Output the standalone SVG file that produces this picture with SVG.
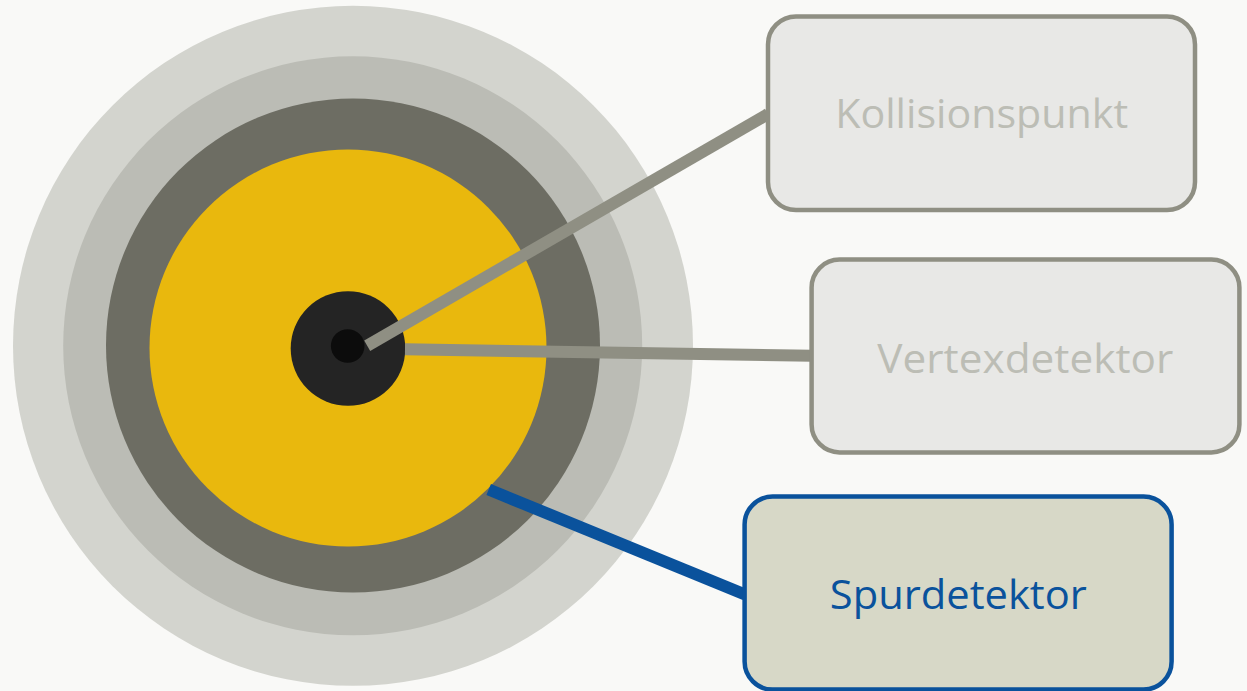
<svg xmlns="http://www.w3.org/2000/svg" width="1247" height="691" viewBox="0 0 1247 691">
  <style>
    .lbl { font-family: "Open Sans", "Noto Sans", "Liberation Sans", sans-serif; font-size: 41px; text-anchor: middle; }
    .gbox { fill: #E8E8E6; stroke: #8F8F83; stroke-width: 4.5; }
    .gtxt { fill: #BCBDB5; }
    .bbox { fill: #D7D8C7; stroke: #0A529C; stroke-width: 4.5; }
    .btxt { fill: #0A529C; }
    .gline { stroke: #8F8F83; stroke-width: 12; stroke-linecap: butt; fill: none; }
    .bline { stroke: #0A529C; stroke-width: 12; stroke-linecap: butt; fill: none; }
  </style>
  <rect x="0" y="0" width="1247" height="691" fill="#F9F9F7"/>
  <g id="detector">
    <circle cx="353" cy="345.8" r="340" fill="#D3D4CE"/>
    <circle cx="352.7" cy="345.8" r="289.5" fill="#BBBCB5"/>
    <circle cx="353" cy="345.5" r="247" fill="#6D6D63"/>
    <circle cx="348" cy="348" r="198.5" fill="#E9B80D"/>
    <circle cx="348" cy="348.5" r="57.3" fill="#242424"/>
    <circle cx="347.7" cy="346" r="16.8" fill="#0C0C0C"/>
  </g>
  <g id="connectors">
    <line class="gline" x1="367.2" y1="345.7" x2="768" y2="114"/>
    <line class="gline" x1="405" y1="349.3" x2="812" y2="355.8"/>
    <line class="bline" x1="488.7" y1="489.5" x2="745" y2="594.5"/>
  </g>
  <g id="kollisionspunkt">
    <rect class="gbox" x="768" y="16.5" width="427" height="193.5" rx="28" ry="28"/>
    <text class="lbl gtxt" x="981.7" y="128" textLength="293" lengthAdjust="spacingAndGlyphs">Kollisionspunkt</text>
  </g>
  <g id="vertexdetektor">
    <rect class="gbox" x="811.6" y="259.6" width="427.8" height="192.8" rx="28" ry="28"/>
    <text class="lbl gtxt" x="1025.3" y="372.7" textLength="296" lengthAdjust="spacingAndGlyphs">Vertexdetektor</text>
  </g>
  <g id="spurdetektor">
    <rect class="bbox" x="744.6" y="496.6" width="427" height="193" rx="28" ry="28"/>
    <text class="lbl btxt" x="958.3" y="609.3" textLength="257" lengthAdjust="spacingAndGlyphs">Spurdetektor</text>
  </g>
</svg>
